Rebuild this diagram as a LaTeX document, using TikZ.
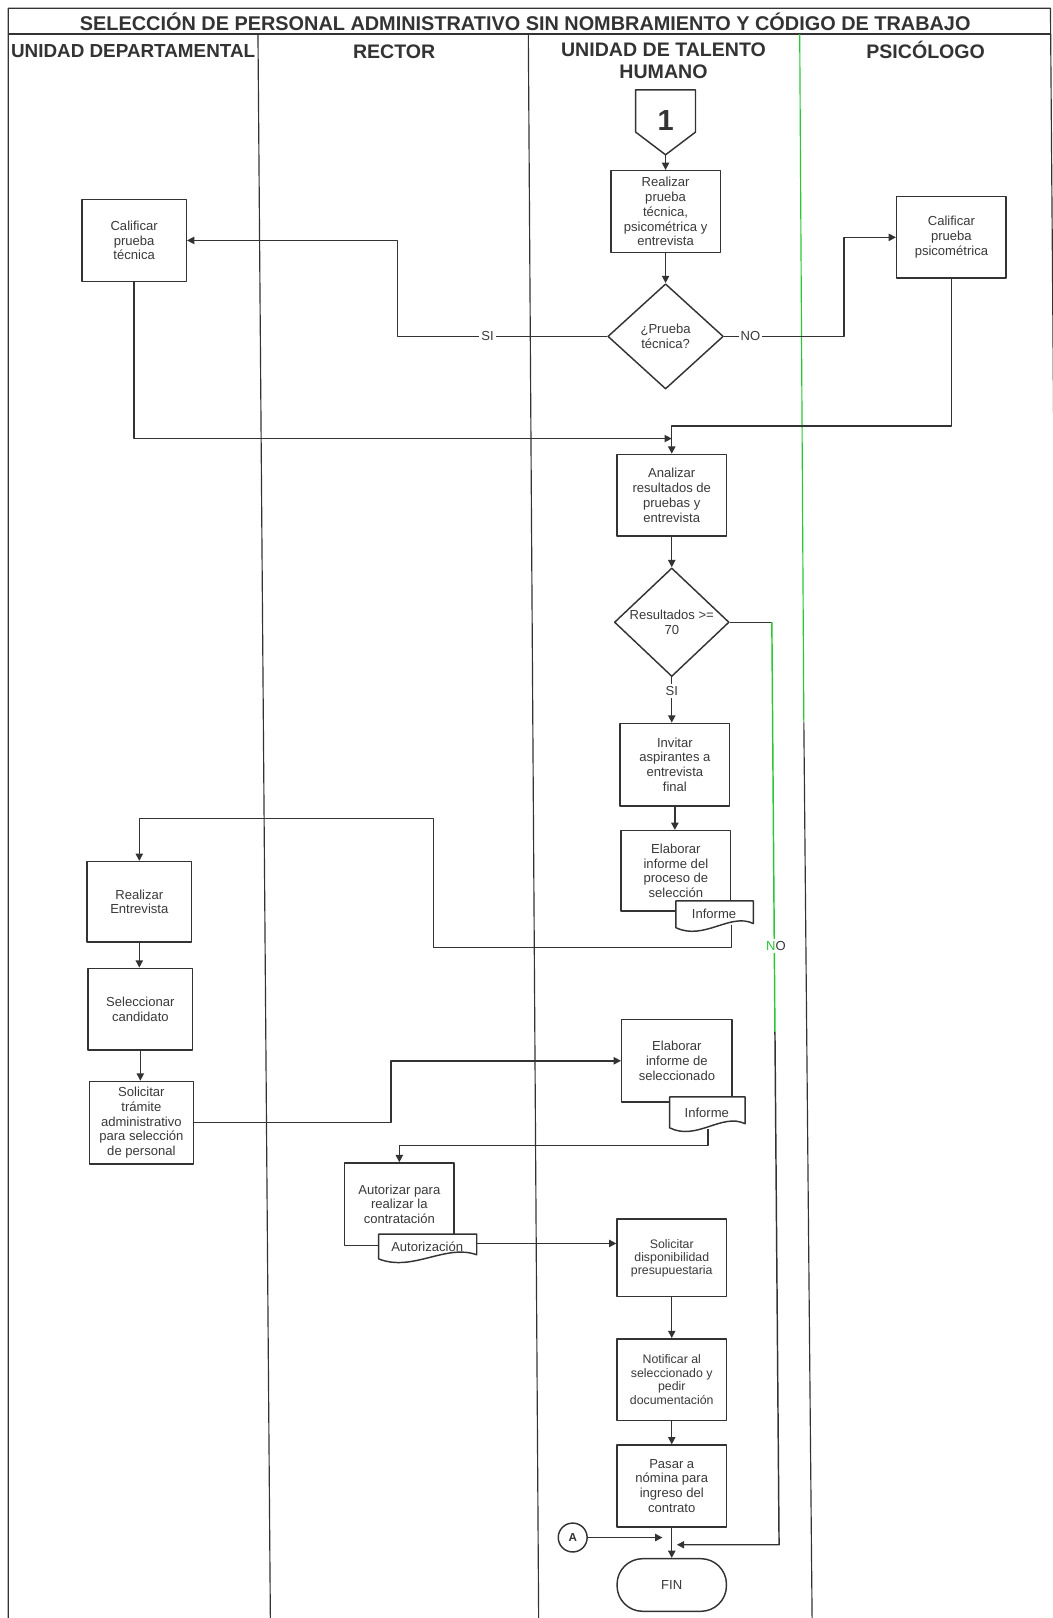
\documentclass[tikz,border=0pt]{standalone}
\usepackage{fontspec}
\setmainfont{Liberation Sans}
\usetikzlibrary{shapes.geometric,arrows.meta}
\definecolor{linea}{HTML}{333333}
\definecolor{texto}{HTML}{3A3A3A}
\definecolor{verde}{RGB}{40,200,50}
\begin{document}
\begin{tikzpicture}[x=0.025cm,y=-0.025cm,>={Triangle[length=5pt,width=5pt]},line join=round,
	proceso/.style={draw=linea,line width=1pt,fill=white,minimum width=2.65cm,minimum height=1.98cm,align=center,inner sep=1pt,text=texto,font=\fontsize{9}{10.2}\selectfont},
	decision/.style={diamond,draw=linea,line width=1pt,fill=white,minimum width=2.8cm,minimum height=2.55cm,inner sep=0pt,align=center,text=texto,font=\fontsize{9}{10.2}\selectfont},
	etiq/.style={fill=white,inner sep=1.5pt,text=texto,font=\fontsize{9}{10}\selectfont},
	flujo/.style={->,draw=linea,line width=1pt},
	carril/.style={draw=linea,line width=.8pt},
	cabecera/.style={align=center,text=linea,font=\bfseries\fontsize{13.5}{15}\selectfont}]
	\useasboundingbox (0,0) rectangle (1020,1568);
	% carriles
	\draw[carril] (8,1568) -- (8,8) -- (1018,8) -- (1030,1568);
	\draw[carril] (8,33) -- (1018,33);
	\draw[carril] (250,33) -- (262,1568);
	\draw[carril] (512,33) -- (522,1568);
	\draw[carril,draw=verde] (775,33) -- (779,700);
	\draw[carril] (779,700) -- (787,1568);
	\node[text=linea,font=\bfseries\fontsize{13.7}{15}\selectfont] (titulo) at (509,21) {SELECCIÓN DE PERSONAL ADMINISTRATIVO SIN NOMBRAMIENTO Y CÓDIGO DE TRABAJO};
	\node[cabecera,font=\bfseries\fontsize{13}{15}\selectfont] (hUD) at (129,50) {UNIDAD DEPARTAMENTAL};
	\node[cabecera] (hRec) at (382,50) {RECTOR};
	\node[cabecera] (hUTH) at (643,59) {UNIDAD DE TALENTO\\HUMANO};
	\node[cabecera] (hPsi) at (897,48) {PSICÓLOGO};
	% inicio
	\draw[draw=linea,line width=1pt] (616,87) -- (674,87) -- (674,128) -- (645,150) -- (616,128) -- cycle;
	\node[text=linea,font=\bfseries\fontsize{20}{20}\selectfont] (c1) at (645,117) {1};
	\coordinate (c1p) at (645,150);
	% nodos
	\node[proceso] (realizar) at (645,205) {Realizar\\prueba\\técnica,\\psicométrica y\\entrevista};
	\node[decision] (dec1) at (645,326) {¿Prueba\\técnica?};
	\node[proceso,minimum width=2.525cm] (calTec) at (130,233) {Calificar\\prueba\\técnica};
	\node[proceso] (calPsi) at (922,230) {Calificar\\prueba\\psicométrica};
	\node[proceso] (analizar) at (651,480) {Analizar\\resultados de\\pruebas y\\entrevista};
	\node[decision,minimum width=2.78cm,minimum height=2.5cm] (dec2) at (651,603) {Resultados >=\\70};
	\node[proceso,minimum height=2cm] (invitar) at (654,741) {Invitar\\aspirantes a\\entrevista\\final};
	\node[proceso,minimum height=1.95cm] (elabInf) at (655,844) {Elaborar\\informe del\\proceso de\\selección};
	\node[proceso,minimum width=2.525cm,minimum height=1.95cm] (realEnt) at (135,874) {Realizar\\Entrevista};
	\node[proceso,minimum width=2.525cm] (selec) at (136,978) {Seleccionar\\candidato};
	\node[proceso,minimum width=2.525cm,minimum height=2cm] (solic) at (137,1088) {Solicitar\\trámite\\administrativo\\para selección\\de personal};
	\node[proceso,minimum width=2.675cm,minimum height=2cm] (elabSel) at (656,1028) {Elaborar\\informe de\\seleccionado};
	\node[proceso,minimum height=2cm] (autor) at (387,1167) {Autorizar para\\realizar la\\contratación};
	\node[proceso,minimum height=1.875cm,font=\fontsize{8.5}{9}\selectfont] (dispo) at (651,1219) {Solicitar\\disponibilidad\\presupuestaria};
	\node[proceso,font=\fontsize{8.5}{9.4}\selectfont] (notif) at (651,1337) {Notificar al\\seleccionado y\\pedir\\documentación};
	\node[proceso] (pasar) at (651,1440) {Pasar a\\nómina para\\ingreso del\\contrato};
	\node[draw=linea,line width=1pt,rounded corners=0.62cm,minimum width=2.65cm,minimum height=1.275cm,text=texto,font=\fontsize{9}{10}\selectfont] (fin) at (651,1536) {FIN};
	\node[circle,draw=linea,line width=1pt,minimum size=0.7cm,inner sep=0pt,text=linea,font=\bfseries\fontsize{8}{8}\selectfont] (A) at (555,1490) {A};
	% documentos
	\filldraw[draw=linea,fill=white,line width=1pt] (655,873) -- (730,873) -- (730,895) .. controls (708,884) and (682,912) .. (655,899) -- cycle;
	\node[etiq,fill=none] (doc1) at (692,886) {Informe};
	\filldraw[draw=linea,fill=white,line width=1pt] (649,1063) -- (722,1063) -- (722,1089) .. controls (700,1078) and (675,1106) .. (649,1093) -- cycle;
	\node[etiq,fill=none] (doc2) at (685,1078) {Informe};
	\filldraw[draw=linea,fill=white,line width=1pt] (367,1196) -- (462,1196) -- (462,1216) .. controls (432,1205) and (400,1233) .. (367,1220) -- cycle;
	\node[etiq,fill=none] (doc3) at (414,1208) {Autorización};
	\coordinate (d1s) at (709,896);
	\coordinate (d2s) at (686,1094);
	\coordinate (d3e) at (462,1205);
	\coordinate (merge) at (651,425);
	\coordinate (noIn) at (656,1497);
	\coordinate (aIn) at (642,1490);
	% conectores
	\draw[flujo] (c1p) -- (realizar.north);
	\draw[flujo] (realizar.south) -- (dec1.north);
	\draw[flujo] (dec1.west) -- node[etiq,pos=.57]{SI} (385,326) |- (calTec.east);
	\draw[flujo] (dec1.east) -- node[etiq,pos=.22]{NO} (818,326) |- (calPsi.west);
	\draw[flujo] (calTec.south) |- (merge);
	\draw[flujo] (calPsi.south) -- (922,413) -| (analizar.north);
	\draw[flujo] (analizar.south) -- (dec2.north);
	\draw[flujo] (dec2.south) -- node[etiq,pos=.3]{SI} (dec2.south |- invitar.north);
	\draw[flujo] (invitar.south) -- (invitar.south |- elabInf.north);
	\draw[draw=linea,line width=1pt] (dec2.east) -- (748,603);
	\draw[draw=verde,line width=1pt] (748,603) -- (751,1000);
	\draw[flujo] (751,1000) -- (755,1497) -- (noIn);
	\node[etiq] (noLbl) at (752,917) {\textcolor{verde}{N}O};
	\draw[flujo] (d1s) -- (709,918) -- (420,918) -- (420,793) -| (realEnt.north);
	\draw[flujo] (realEnt.south) -- (realEnt.south |- selec.north);
	\draw[flujo] (selec.south) -- (selec.south |- solic.north);
	\draw[flujo] (solic.east) -- (379,1088) |- (elabSel.west);
	\draw[flujo] (d2s) -- (686,1110) -| (autor.north);
	\draw[flujo] (d3e) -- (d3e -| dispo.west);
	\draw[flujo] (dispo.south) -- (notif.north);
	\draw[flujo] (notif.south) -- (pasar.north);
	\draw[flujo] (pasar.south) -- (fin.north);
	\draw[flujo] (A) -- (aIn);
\end{tikzpicture}
\end{document}
